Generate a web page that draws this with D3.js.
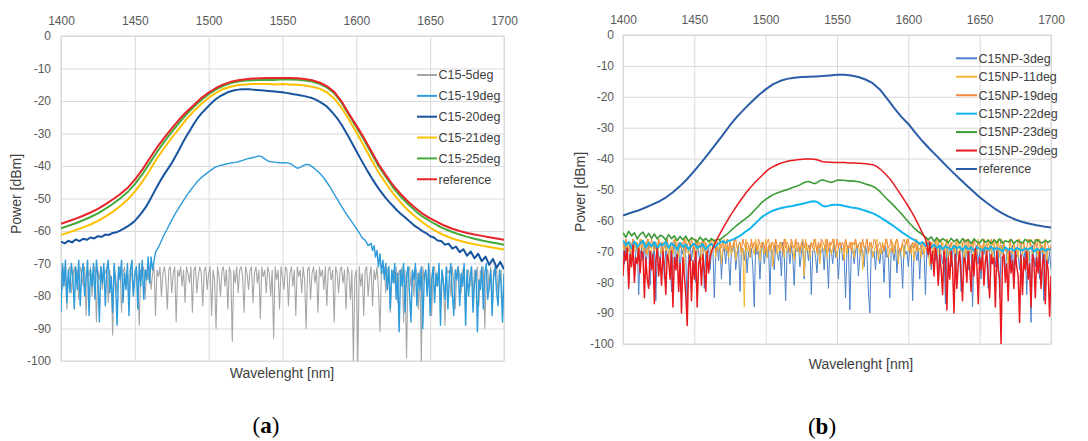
<!DOCTYPE html>
<html>
<head>
<meta charset="utf-8">
<script src="https://cdn.jsdelivr.net/npm/d3@7"></script>
<style>
  html, body { margin: 0; padding: 0; background: #fff; }
  svg { display: block; font-family: "Liberation Sans", Arial, sans-serif; }
</style>
</head>
<body>
<svg id="chart" width="1088" height="441"></svg>
<script>
// ---------- axes ----------
const wavelengthTicks = [1400, 1450, 1500, 1550, 1600, 1650, 1700];
const powerTicks = [0, -10, -20, -30, -40, -50, -60, -70, -80, -90, -100];

// ---------- panel (a): spectra, dBm ----------
// 1 nm samples, 1400-1700 nm
const c15_5deg = [
  -72,-78,-71,-73,-84,-72,-71,-79,-74,-71,
  -76,-72,-81,-71,-73,-77,-71,-86,-72,-74,
  -71,-80,-73,-71,-88,-72,-75,-71,-78,-72,
  -73,-71,-82,-72,-76,-92,-71,-74,-79,-72,
  -71,-85,-73,-71,-77,-72,-83,-71,-74,-80,
  -72,-71,-76,-89,-72,-73,-71,-81,-72,-75,
  -71,-78,-73,-71,-86,-72,-74,-71,-80,-73,
  -71,-75,-84,-72,-71,-79,-73,-71,-88,-72,
  -74,-71,-77,-72,-82,-71,-73,-76,-71,-85,
  -72,-71,-79,-74,-71,-73,-83,-72,-71,-78,
  -73,-71,-86,-72,-75,-90,-71,-74,-80,-72,
  -71,-77,-72,-84,-71,-73,-94,-72,-76,-71,
  -79,-72,-71,-74,-85,-71,-73,-78,-72,-71,
  -82,-73,-71,-76,-72,-87,-71,-74,-72,-79,
  -71,-73,-80,-72,-93,-71,-75,-72,-84,-71,
  -74,-78,-71,-72,-83,-73,-71,-77,-72,-86,
  -71,-74,-72,-79,-71,-75,-90,-72,-71,-81,
  -73,-71,-76,-72,-85,-71,-74,-72,-78,-71,
  -83,-72,-71,-75,-72,-88,-71,-73,-79,-72,
  -71,-76,-72,-84,-71,-73,-81,-72,-100,-74,
  -72,-100,-71,-77,-73,-86,-72,-71,-80,-74,
  -71,-83,-72,-75,-71,-78,-91,-72,-73,-71,
  -79,-72,-71,-85,-73,-72,-76,-71,-82,-72,
  -74,-71,-88,-72,-99,-73,-71,-77,-72,-80,
  -71,-73,-84,-72,-100,-71,-75,-72,-79,-71,
  -73,-86,-72,-71,-77,-74,-71,-82,-72,-75,
  -89,-71,-73,-72,-80,-71,-76,-84,-72,-71,
  -74,-79,-72,-71,-86,-73,-72,-77,-71,-81,
  -72,-75,-71,-83,-72,-74,-71,-90,-73,-72,
  -78,-71,-85,-72,-74,-71,-80,-73,-72,-86,
  -74
];
// noise floor 1400-1462 nm (1 nm), passband 1464-1610 nm (2 nm), noise floor 1611-1700 nm (1 nm)
const c15_19deg_low = [
  -85,-70,-77,-69,-82,-72,-79,-70,-74,-84,
  -71,-78,-69,-83,-73,-70,-80,-75,-69,-86,
  -72,-77,-70,-81,-69,-74,-88,-71,-76,-70,
  -83,-72,-69,-79,-74,-85,-70,-77,-89,-71,
  -75,-69,-82,-73,-78,-70,-86,-72,-69,-80,
  -74,-71,-84,-70,-77,-69,-81,-72,-75,-68,
  -76,-68,-72
];
const c15_19deg_band = [
  -66.5,-65,-63,-61,-59.3,-57.5,-55.8,-54.2,
  -52.7,-51.3,-49.9,-48.5,-47.3,-46.1,-45,-44,-43.2,-42.5,
  -41.8,-41.1,-40.5,-40.1,-39.8,-39.6,-39.4,-39.2,-39.0,-38.9,
  -38.7,-38.4,-38.1,-37.8,-37.6,-37.4,-37.2,-36.9,-37.1,-37.8,
  -38.4,-38.7,-38.8,-38.9,-39.0,-39.0,-39.0,-39.1,-39.4,-40.1,
  -40.7,-40.4,-39.9,-39.5,-39.6,-40.2,-40.9,-41.7,-42.6,-43.7,
  -45.0,-46.3,-47.9,-49.4,-50.9,-52.4,-53.9,-55.3,-56.6,-57.9,
  -59.2,-60.6,-62.2,-62.8,-64.5,-63.8
];
const c15_19deg_high = [
  -66,-64.5,-68,-66,-71,-67,-73,-69,-75,-70,
  -78,-71,-84,-72,-76,-70,-81,-73,-91,-72,
  -77,-70,-85,-74,-71,-79,-88,-72,-75,-70,
  -83,-73,-78,-71,-90,-74,-72,-80,-70,-86,
  -75,-71,-82,-73,-77,-70,-89,-72,-76,-81,
  -71,-84,-74,-70,-79,-86,-72,-75,-71,-83,
  -73,-77,-70,-89,-72,-80,-74,-71,-85,-76,
  -72,-91,-75,-78,-71,-84,-73,-70,-81,-77,
  -72,-86,-74,-71,-79,-83,-72,-76,-88,-73
];
// 2.5 nm samples, 1400-1700 nm
const c15_20deg = [
  -63.3,-63.8,-63.0,-63.5,-62.6,-63.1,-62.4,-62.7,-62.0,-62.3,
  -61.6,-61.8,-61.1,-61.2,-60.6,-60.4,-59.9,-59.3,-58.6,-57.8,
  -56.9,-55.6,-54.2,-52.6,-50.6,-48.5,-46.4,-44.4,-42.5,-40.8,
  -39.1,-37.1,-35.0,-32.8,-30.8,-28.9,-27.0,-25.3,-23.9,-22.7,
  -21.5,-20.4,-19.4,-18.6,-18.0,-17.4,-17.0,-16.7,-16.5,-16.4,
  -16.4,-16.4,-16.5,-16.6,-16.7,-16.8,-16.9,-17.0,-17.1,-17.2,
  -17.3,-17.5,-17.7,-17.9,-18.1,-18.3,-18.5,-18.8,-19.1,-19.6,
  -20.2,-20.9,-21.7,-22.9,-24.2,-25.6,-27.3,-29.2,-31.2,-33.3,
  -35.4,-37.5,-39.5,-41.5,-43.4,-45.2,-46.9,-48.4,-49.9,-51.2,
  -52.4,-53.6,-54.7,-55.6,-56.6,-57.6,-58.6,-59.3,-60.1,-60.7,
  -61.6,-62.0,-62.9,-63.1,-64.2,-63.9,-65.4,-64.8,-66.5,-65.6,
  -67.6,-66.3,-68.4,-67.0,-69.3,-67.9,-70.4,-68.6,-71.3,-69.5,
  -71.8
];
// 5 nm samples, 1400-1700 nm
const c15_21deg = [
  -61.2,-60.5,-59.7,-58.9,-58.0,-56.9,-55.6,-54.1,-52.4,-50.4,
  -47.9,-44.9,-41.4,-37.7,-34.4,-31.3,-28.5,-25.6,-23.1,-20.9,
  -19.0,-17.5,-16.3,-15.6,-15.1,-14.9,-14.8,-14.8,-14.8,-14.9,
  -14.8,-14.9,-15.0,-15.2,-15.6,-16.2,-17.3,-19.2,-22.1,-25.8,
  -29.6,-33.7,-37.9,-41.9,-45.3,-48.5,-51.2,-53.6,-55.6,-57.4,
  -59.0,-60.3,-61.4,-62.3,-63.0,-63.6,-64.1,-64.5,-64.9,-65.3,
  -65.7
];
const c15_25deg = [
  -59.2,-58.4,-57.6,-56.7,-55.7,-54.6,-53.2,-51.7,-50.0,-48.1,
  -45.6,-42.6,-39.2,-35.7,-32.5,-29.5,-26.7,-24.1,-21.8,-19.7,
  -17.9,-16.4,-15.3,-14.5,-14.0,-13.7,-13.6,-13.5,-13.5,-13.5,
  -13.4,-13.4,-13.5,-13.7,-14.0,-14.7,-15.8,-17.6,-20.5,-24.3,
  -28.0,-31.8,-35.9,-40.0,-43.4,-46.7,-49.4,-51.7,-53.8,-55.6,
  -57.0,-58.3,-59.4,-60.3,-61.1,-61.8,-62.4,-62.9,-63.4,-63.8,
  -64.2
];
const referenceA = [
  -57.8,-57.0,-56.2,-55.3,-54.3,-53.2,-51.8,-50.3,-48.7,-46.8,
  -44.2,-41.2,-37.7,-34.3,-31.3,-28.4,-25.7,-23.3,-21.2,-19.1,
  -17.4,-16.0,-14.9,-14.1,-13.6,-13.3,-13.1,-13.0,-12.9,-12.9,
  -12.9,-12.9,-13.0,-13.2,-13.6,-14.3,-15.4,-17.2,-20.1,-23.9,
  -27.5,-31.2,-35.3,-39.4,-42.8,-46.0,-48.6,-50.9,-52.9,-54.7,
  -56.1,-57.3,-58.4,-59.3,-60.0,-60.6,-61.1,-61.5,-61.9,-62.3,
  -62.7
];

// ---------- panel (b): spectra, dBm ----------
// 1 nm samples, 1400-1700 nm
const c15np_3deg = [
  -69,-74,-68,-71,-80,-69,-72,-67,-78,-70,
  -68,-84,-71,-69,-73,-67,-76,-70,-68,-81,
  -70,-72,-68,-86,-69,-71,-75,-67,-70,-79,
  -68,-73,-70,-69,-83,-71,-67,-74,-70,-68,
  -77,-69,-71,-68,-72,-88,-70,-67,-73,-69,
  -71,-80,-68,-70,-74,-67,-69,-82,-70,-72,
  -68,-76,-70,-69,-85,-71,-68,-73,-67,-79,
  -70,-69,-74,-68,-72,-81,-69,-70,-67,-76,
  -71,-68,-83,-70,-69,-73,-68,-77,-70,-72,
  -69,-75,-88,-68,-71,-70,-79,-69,-67,-74,
  -70,-72,-68,-84,-69,-71,-76,-68,-70,-73,
  -69,-78,-67,-71,-86,-70,-69,-74,-68,-72,
  -81,-69,-70,-68,-75,-71,-67,-79,-70,-69,
  -73,-68,-84,-70,-69,-72,-77,-68,-71,-70,
  -69,-76,-68,-71,-82,-69,-70,-74,-67,-72,
  -70,-79,-69,-68,-73,-71,-85,-70,-68,-89,
  -71,-69,-74,-70,-68,-78,-72,-69,-70,-75,
  -68,-71,-83,-90,-69,-72,-70,-76,-68,-71,
  -74,-69,-70,-80,-68,-72,-71,-85,-69,-70,
  -73,-68,-77,-70,-69,-72,-82,-68,-71,-70,
  -75,-69,-68,-86,-71,-70,-73,-69,-79,-68,
  -71,-70,-84,-69,-72,-68,-76,-71,-70,-73,
  -69,-80,-68,-71,-74,-70,-87,-69,-72,-68,
  -75,-70,-69,-78,-68,-72,-71,-83,-69,-70,
  -73,-68,-76,-70,-69,-88,-71,-72,-68,-74,
  -70,-79,-69,-71,-68,-73,-82,-70,-69,-72,
  -68,-75,-71,-69,-85,-70,-68,-72,-77,-69,
  -71,-70,-74,-68,-80,-69,-72,-71,-76,-68,
  -70,-73,-69,-84,-71,-70,-93,-68,-72,-75,
  -69,-71,-79,-68,-70,-86,-72,-69,-74,-70,
  -76
];
const c15np_11deg = [
  -68,-70,-66,-71,-67,-69,-72,-66,-70,-68,
  -67,-73,-68,-66,-70,-69,-67,-71,-66,-74,
  -69,-67,-70,-68,-72,-66,-69,-71,-67,-68,
  -70,-66,-73,-68,-67,-71,-69,-66,-70,-72,
  -67,-69,-68,-76,-66,-70,-71,-67,-69,-68,
  -72,-66,-70,-68,-67,-73,-69,-66,-71,-70,
  -68,-67,-71,-69,-66,-72,-68,-70,-67,-74,
  -69,-66,-70,-68,-72,-67,-71,-69,-66,-73,
  -70,-68,-67,-71,-69,-88,-66,-70,-68,-72,
  -67,-69,-71,-66,-70,-68,-73,-67,-69,-71,
  -66,-72,-68,-70,-67,-75,-69,-66,-71,-68,
  -70,-67,-69,-72,-66,-70,-68,-71,-67,-69,
  -73,-66,-70,-68,-71,-67,-69,-78,-66,-70,
  -68,-72,-67,-69,-70,-66,-71,-68,-74,-67,
  -69,-70,-66,-72,-68,-67,-71,-69,-66,-70,
  -72,-68,-67,-70,-69,-73,-66,-71,-68,-69,
  -67,-70,-72,-66,-69,-68,-71,-67,-76,-70,
  -68,-66,-71,-69,-67,-72,-70,-68,-66,-73,
  -69,-71,-67,-70,-68,-66,-72,-69,-70,-67,
  -71,-68,-66,-74,-69,-70,-67,-72,-68,-66,
  -70,-69,-71,-67,-73,-68,-66,-70,-69,-72,
  -67,-71,-68,-66,-70,-75,-69,-67,-71,-68,
  -66,-70,-72,-69,-67,-68,-71,-66,-73,-70,
  -68,-67,-69,-71,-66,-72,-70,-68,-67,-74,
  -69,-71,-66,-70,-68,-67,-73,-69,-71,-66,
  -70,-68,-72,-67,-69,-71,-66,-70,-68,-73,
  -67,-69,-70,-66,-72,-68,-71,-67,-69,-70,
  -74,-66,-68,-71,-67,-70,-69,-72,-66,-68,
  -71,-67,-70,-69,-73,-66,-68,-71,-70,-67,
  -69,-72,-66,-70,-68,-71,-67,-74,-69,-70,
  -68
];
const c15np_19deg = [
  -67,-69,-66,-68,-70,-67,-68,-66,-69,-67,
  -68,-70,-66,-69,-67,-68,-71,-66,-68,-69,
  -66,-68,-70,-67,-69,-66,-68,-67,-70,-68,
  -67,-66,-69,-68,-70,-67,-66,-69,-68,-67,
  -69,-67,-68,-66,-70,-68,-67,-69,-66,-68,
  -70,-66,-68,-67,-69,-68,-66,-70,-67,-69,
  -68,-67,-66,-69,-68,-70,-67,-68,-66,-69,
  -67,-69,-68,-66,-70,-67,-69,-68,-67,-66,
  -69,-68,-67,-70,-66,-68,-69,-67,-68,-70,
  -66,-69,-67,-68,-70,-66,-68,-69,-67,-68,
  -70,-67,-66,-69,-68,-67,-70,-66,-68,-69,
  -67,-68,-70,-66,-69,-67,-68,-70,-66,-68,
  -69,-66,-68,-67,-70,-68,-66,-69,-67,-68,
  -68,-70,-67,-69,-66,-68,-70,-67,-69,-66,
  -67,-68,-69,-66,-70,-67,-68,-66,-69,-70,
  -66,-69,-67,-68,-67,-70,-66,-68,-69,-67,
  -70,-67,-68,-66,-69,-68,-67,-70,-66,-69,
  -68,-66,-70,-67,-68,-69,-66,-67,-70,-68,
  -67,-69,-68,-70,-66,-67,-69,-68,-66,-70,
  -69,-67,-66,-68,-70,-69,-67,-66,-68,-67,
  -66,-70,-68,-67,-69,-66,-70,-68,-67,-69,
  -68,-67,-69,-70,-66,-68,-67,-69,-70,-66,
  -70,-68,-66,-67,-69,-70,-68,-66,-67,-69,
  -67,-69,-70,-68,-66,-67,-69,-70,-68,-66,
  -69,-66,-67,-69,-68,-70,-66,-68,-69,-67,
  -68,-70,-69,-66,-67,-68,-70,-69,-66,-68,
  -66,-67,-68,-70,-69,-66,-67,-68,-70,-69,
  -70,-69,-66,-67,-68,-69,-70,-66,-67,-68,
  -67,-68,-70,-69,-66,-67,-68,-70,-69,-66,
  -69,-66,-67,-68,-70,-69,-66,-67,-68,-70,
  -68
];
// 2 nm samples, 1400-1700 nm
const c15np_22deg = [
  -66.5,-68,-67,-69,-66.8,-68.5,-67.5,-66.6,-68.8,-67.2,
  -68.4,-67,-69.2,-67.6,-68,-66.9,-68.9,-67.4,-68.2,-69.5,
  -67.3,-68.6,-67.8,-69.3,-68.1,-67.5,-69,-68.3,-67.7,-69.4,
  -68.2,-67.6,-68.8,-67.9,-67.2,-66.7,-67.3,-66.6,-66.4,-66.0,
  -65.5,-65.0,-64.3,-63.6,-63.0,-62.2,-61.3,-60.4,-59.5,-58.7,
  -58.1,-57.6,-57.1,-56.7,-56.4,-56.1,-55.9,-55.7,-55.5,-55.4,
  -55.2,-55.0,-54.8,-54.6,-54.4,-54.1,-53.9,-53.8,-54.0,-54.6,
  -55.3,-55.5,-55.3,-55.0,-54.9,-54.9,-55.0,-55.2,-55.4,-55.6,
  -55.8,-55.9,-56.1,-56.3,-56.6,-56.9,-57.2,-57.5,-57.9,-58.4,
  -58.9,-59.5,-60.1,-60.7,-61.3,-61.9,-62.6,-63.3,-64.0,-64.6,
  -65.2,-65.8,-66.3,-66.8,-67.6,-67.0,-68.3,-67.4,-68.8,-67.8,
  -69,-68.1,-69.4,-68.3,-68.9,-69.6,-68.2,-69.1,-68.5,-69.7,
  -68.4,-69.3,-68.7,-69.8,-68.6,-69.2,-69.9,-68.8,-69.4,-68.5,
  -69.6,-68.9,-69.3,-70,-68.7,-69.5,-69.1,-69.8,-68.9,-69.4,
  -69.7,-69,-69.5,-68.8,-70.1,-69.2,-69.6,-69,-69.8,-69.3,
  -69.5
];
const c15np_23deg = [
  -64,-65.5,-63.5,-65,-64,-66,-64.5,-63.8,-65.6,-64.2,
  -65.8,-64.4,-66,-64.8,-65.2,-66.4,-64.6,-65.9,-65,-66.5,
  -65.2,-66.3,-65.1,-66.8,-65.6,-66.2,-67,-65.4,-66.6,-65.8,
  -66.9,-65.9,-66.7,-66.1,-66.3,-65.5,-64.8,-64.0,-63.1,-62.3,
  -61.5,-60.8,-60.1,-59.4,-58.7,-57.8,-56.8,-55.8,-54.8,-53.9,
  -53.2,-52.6,-52.0,-51.5,-51.1,-50.8,-50.5,-50.2,-49.9,-49.5,
  -49.2,-48.9,-48.5,-48.0,-47.6,-47.4,-47.7,-48.1,-47.8,-47.1,
  -46.9,-47.2,-47.5,-47.7,-47.4,-47.0,-46.9,-47.0,-47.1,-47.2,
  -47.2,-47.3,-47.4,-47.6,-47.9,-48.2,-48.5,-48.8,-49.2,-49.8,
  -50.6,-51.6,-52.6,-53.5,-54.4,-55.3,-56.3,-57.3,-58.3,-59.4,
  -60.5,-61.5,-62.4,-63.3,-64.0,-64.6,-65.4,-66.2,-65.3,-66.8,
  -65.6,-67,-65.9,-66.5,-67.2,-65.8,-66.9,-66.1,-67.4,-65.9,
  -66.8,-66.2,-67.5,-66,-66.9,-67.3,-66.1,-67.1,-66.4,-67.6,
  -66.3,-67.2,-66,-67.4,-66.6,-67,-66.2,-67.5,-66.5,-66.9,
  -67.3,-66.1,-67,-66.4,-67.6,-66.2,-66.9,-67.3,-66.5,-67.1,
  -66.4
];
// noise floor 1400-1462 nm (1 nm), passband 1464-1612 nm (2 nm), noise floor 1613-1700 nm (1 nm)
const c15np_29deg_low = [
  -78,-70,-73,-69,-82,-71,-75,-68,-80,-72,
  -74,-69,-77,-70,-71,-85,-72,-79,-82,-70,
  -76,-71,-87,-73,-69,-78,-72,-81,-70,-75,
  -84,-71,-73,-79,-70,-88,-72,-76,-71,-83,
  -74,-90,-72,-78,-84,-94,-75,-71,-86,-73,
  -79,-70,-88,-74,-72,-81,-71,-76,-83,-70,
  -77,-72,-70
];
const c15np_29deg_band = [
  -68,-66,-64.3,-62.6,-61,-59.4,-57.9,-56.5,
  -55.1,-53.8,-52.5,-51.2,-50.1,-49.0,-48.0,-47.0,-46.1,-45.2,
  -44.3,-43.5,-42.9,-42.4,-42.0,-41.6,-41.3,-41.0,-40.8,-40.6,
  -40.5,-40.4,-40.3,-40.2,-40.1,-40.1,-40.1,-40.2,-40.4,-40.7,
  -41.0,-41.1,-41.2,-41.2,-41.3,-41.3,-41.3,-41.3,-41.3,-41.4,
  -41.4,-41.4,-41.5,-41.5,-41.6,-41.7,-41.8,-41.9,-42.1,-42.6,
  -43.3,-44.1,-45.0,-46.0,-47.1,-48.4,-49.8,-51.2,-52.6,-54.0,
  -55.5,-57.0,-58.6,-60.4,-62.3,-64.2,-66.0
];
const c15np_29deg_high = [
  -68,-71,-67,-74,-70,-78,-69,-72,-81,-71,
  -76,-84,-70,-73,-89,-72,-79,-70,-75,-90,
  -71,-82,-74,-70,-77,-86,-72,-73,-80,-70,
  -75,-83,-71,-78,-69,-74,-87,-72,-76,-70,
  -81,-73,-70,-78,-85,-71,-74,-72,-88,-70,
  -76,-79,-100,-72,-71,-80,-74,-86,-70,-77,
  -73,-82,-70,-75,-78,-93,-71,-84,-72,-76,
  -70,-79,-74,-88,-71,-73,-85,-72,-77,-70,
  -82,-74,-71,-87,-73,-76,-91,-78
];
// 5 nm samples, 1400-1700 nm
const referenceB = [
  -58.4,-57.6,-56.9,-56.0,-55.0,-53.9,-52.6,-50.9,-48.9,-46.6,
  -44.0,-41.2,-38.3,-35.3,-32.3,-29.2,-26.4,-24.0,-21.7,-19.5,
  -17.6,-16.0,-14.9,-14.2,-13.8,-13.6,-13.5,-13.4,-13.3,-13.1,
  -12.9,-12.9,-13.1,-13.6,-14.4,-15.6,-17.6,-20.5,-23.6,-26.4,
  -28.8,-31.7,-34.4,-36.9,-39.2,-41.6,-43.9,-46.1,-48.3,-50.4,
  -52.5,-54.3,-56.0,-57.5,-58.7,-59.7,-60.5,-61.1,-61.6,-62.0,
  -62.3
];

// ---------- series (drawn in legend order) ----------
// each trace is a list of sampled runs: [start wavelength, step (nm), values]
const seriesA = [
  { name: "C15-5deg",  runs: [[1400, 1, c15_5deg]], color: "#A6A6A6", width: 1.1 },
  { name: "C15-19deg", runs: [[1400, 1, c15_19deg_low], [1464, 2, c15_19deg_band], [1611, 1, c15_19deg_high]],
    color: "#2E9BDA", width: 1.4 },
  { name: "C15-20deg", runs: [[1400, 2.5, c15_20deg]], color: "#17549E", width: 2 },
  { name: "C15-21deg", runs: [[1400, 5, c15_21deg]], color: "#FFC000", width: 2 },
  { name: "C15-25deg", runs: [[1400, 5, c15_25deg]], color: "#45AA3A", width: 2 },
  { name: "reference", runs: [[1400, 5, referenceA]], color: "#E8232A", width: 2 }
];
const seriesB = [
  { name: "C15NP-3deg",  runs: [[1400, 1, c15np_3deg]],  color: "#4A80CA", width: 1 },
  { name: "C15NP-11deg", runs: [[1400, 1, c15np_11deg]], color: "#F7B432", width: 1 },
  { name: "C15NP-19deg", runs: [[1400, 1, c15np_19deg]], color: "#F08A3E", width: 1 },
  { name: "C15NP-22deg", runs: [[1400, 2, c15np_22deg]], color: "#12B4EE", width: 2 },
  { name: "C15NP-23deg", runs: [[1400, 2, c15np_23deg]], color: "#3C9B36", width: 1.6 },
  { name: "C15NP-29deg", runs: [[1400, 1, c15np_29deg_low], [1464, 2, c15np_29deg_band], [1613, 1, c15np_29deg_high]],
    color: "#E8191F", width: 1.5 },
  { name: "reference",   runs: [[1400, 5, referenceB]],  color: "#2A5DA6", width: 2 }
];

// ---------- layout ----------
const panels = [
  { series: seriesA, left: 61, right: 504, top: 36, bottom: 361,
    xPad: 11.5, yPad: 10,
    legend: { x: 417, y: 75, dy: 20.85, len: 20 },
    xTitle: { x: 282, y: 378 }, yTitle: { x: 21, y: 194 },
    tag: { x: 266, y: 433, letter: "a" } },
  { series: seriesB, left: 623, right: 1051, top: 35, bottom: 344,
    xPad: 10.6, yPad: 9,
    legend: { x: 956, y: 58.3, dy: 18.45, len: 21 },
    xTitle: { x: 861, y: 369 }, yTitle: { x: 585, y: 192 },
    tag: { x: 822, y: 434, letter: "b" } }
];

const svg = d3.select("#chart");

function tracePoints(runs) {
  return runs.flatMap(([start, step, values]) =>
    values.map((v, i) => ({ wl: start + i * step, p: v })));
}

panels.forEach((p, pi) => {
  const x = d3.scaleLinear().domain([1400, 1700]).range([p.left, p.right]);
  const y = d3.scaleLinear().domain([-100, 0]).range([p.bottom, p.top]);
  const g = svg.append("g");

  // grid + tick labels
  const gx = g.append("g")
    .attr("transform", `translate(0,${p.top})`)
    .call(d3.axisTop(x).tickValues(wavelengthTicks).tickFormat(d => String(d))
      .tickSize(-(p.bottom - p.top)).tickPadding(p.xPad));
  const gy = g.append("g")
    .attr("transform", `translate(${p.left},0)`)
    .call(d3.axisLeft(y).tickValues(powerTicks).tickFormat(d => String(d))
      .tickSize(-(p.right - p.left)).tickPadding(p.yPad));
  [gx, gy].forEach(ax => {
    ax.attr("font-family", null).attr("font-size", null);
    ax.select(".domain").remove();
    ax.selectAll(".tick line").attr("stroke", "#D9D9D9").attr("stroke-width", 1);
    ax.selectAll(".tick text").attr("fill", "#595959").style("font-size", "12px");
  });
  gx.selectAll(".tick text").attr("dy", "0");

  g.append("rect")
    .attr("x", p.left).attr("y", p.top)
    .attr("width", p.right - p.left).attr("height", p.bottom - p.top)
    .attr("fill", "none").attr("stroke", "#D9D9D9");

  // clip traces to the plotting area
  const clipId = "clip" + pi;
  svg.append("clipPath").attr("id", clipId).append("rect")
    .attr("x", p.left).attr("y", p.top - 1)
    .attr("width", p.right - p.left).attr("height", p.bottom - p.top + 1);

  const line = d3.line().x(d => x(d.wl)).y(d => y(d.p));
  const traces = g.append("g").attr("clip-path", `url(#${clipId})`);
  p.series.forEach(s => {
    traces.append("path")
      .datum(tracePoints(s.runs))
      .attr("d", line)
      .attr("fill", "none")
      .attr("stroke", s.color)
      .attr("stroke-width", s.width)
      .attr("stroke-linejoin", "round");
  });

  // legend
  const lg = g.append("g");
  p.series.forEach((s, i) => {
    const ly = p.legend.y + i * p.legend.dy;
    lg.append("line")
      .attr("x1", p.legend.x).attr("x2", p.legend.x + p.legend.len)
      .attr("y1", ly).attr("y2", ly)
      .attr("stroke", s.color).attr("stroke-width", Math.max(s.width, 2));
    lg.append("text")
      .attr("x", p.legend.x + p.legend.len + 1.5).attr("y", ly)
      .attr("dy", "0.35em")
      .attr("fill", "#404040")
      .style("font-size", "12.5px")
      .text(s.name);
  });

  // axis titles
  g.append("text")
    .attr("x", p.xTitle.x).attr("y", p.xTitle.y)
    .attr("text-anchor", "middle").attr("fill", "#404040")
    .style("font-size", "14px")
    .text("Wavelenght [nm]");
  g.append("text")
    .attr("transform", `translate(${p.yTitle.x},${p.yTitle.y}) rotate(-90)`)
    .attr("text-anchor", "middle").attr("fill", "#404040")
    .style("font-size", "14px")
    .text("Power [dBm]");

  // panel tag
  const tag = g.append("text")
    .attr("x", p.tag.x).attr("y", p.tag.y)
    .attr("text-anchor", "middle").attr("fill", "#000")
    .style("font-family", "'Liberation Serif', 'Times New Roman', serif")
    .style("font-size", "23px");
  tag.append("tspan").text("(");
  tag.append("tspan").style("font-weight", "bold").text(p.tag.letter);
  tag.append("tspan").text(")");
});
</script>
</body>
</html>
